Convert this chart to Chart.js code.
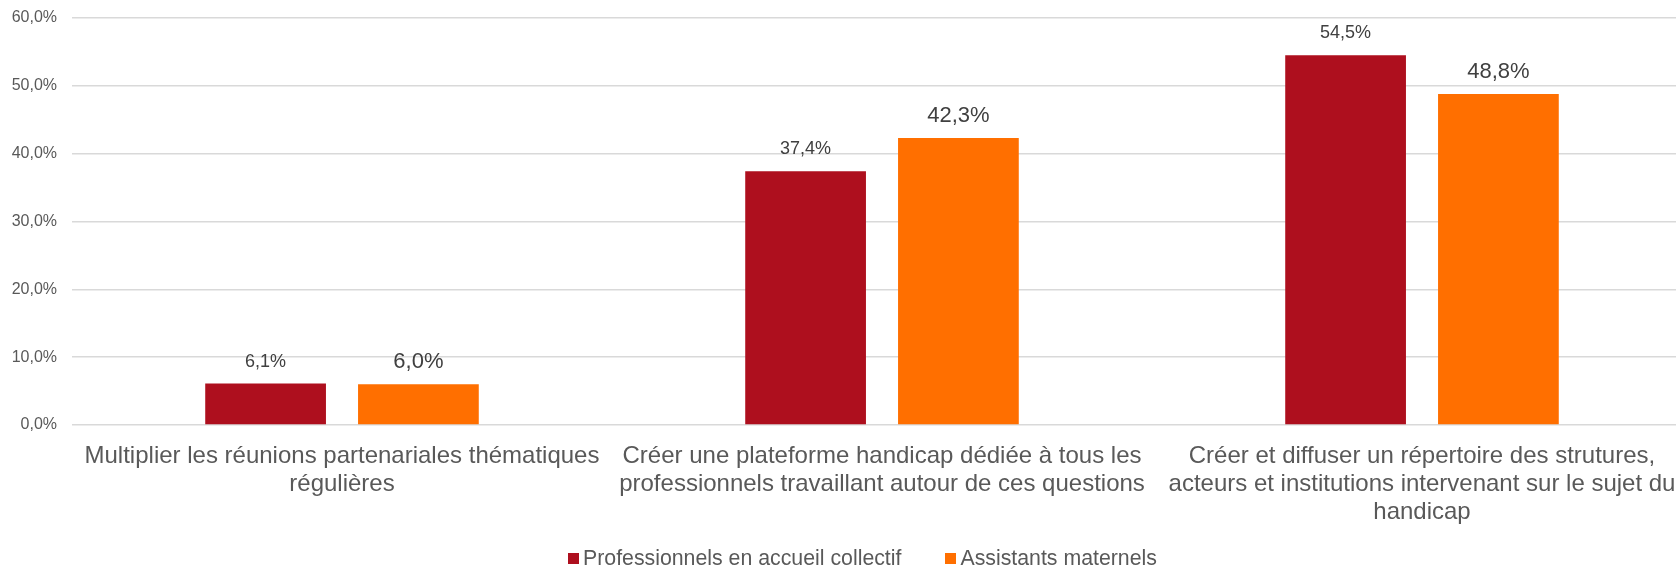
<!DOCTYPE html>
<html>
<head>
<meta charset="utf-8">
<script src="https://cdn.jsdelivr.net/npm/chart.js@4"></script>
<style>
  html, body { margin: 0; padding: 0; background: #fff; overflow: hidden; }
  #wrap { position: relative; width: 1676px; height: 566px; overflow: hidden; }
  #cw { position: absolute; left: 0; top: 0; width: 1692px; height: 566px; }
  #legend { position: absolute; left: 568px; top: 547px; height: 22px; display: flex; align-items: center;
            font-family: "Liberation Sans", Arial, sans-serif; font-size: 21.3px; color: #595959; white-space: nowrap; }
  .item { display: flex; align-items: center; }
  .sw { width: 11px; height: 11px; margin-right: 4px; }
</style>
</head>
<body>
<div id="wrap">
  <div id="cw"><canvas id="c"></canvas></div>
  <div id="legend"></div>
</div>
<script>
const categories = [
  ["Multiplier les réunions partenariales thématiques", "régulières"],
  ["Créer une plateforme handicap dédiée à tous les", "professionnels travaillant autour de ces questions"],
  ["Créer et diffuser un répertoire des strutures,", "acteurs et institutions intervenant sur le sujet du", "handicap"]
];
const seriesNames = ["Professionnels en accueil collectif", "Assistants maternels"];
const collectifValues = [6.1, 37.4, 54.5];
const assistantsValues = [6.0, 42.3, 48.8];
const seriesColors = ["#AE0F1E", "#FF6F00"];
const labelFontSizes = [18, 22];
const yTicks = [0, 10, 20, 30, 40, 50, 60];

const fmt = v => v.toFixed(1).replace('.', ',') + '%';
const FONT = '"Liberation Sans", Arial, sans-serif';

const dataLabels = {
  id: 'dataLabels',
  afterDatasetsDraw(chart) {
    const ctx = chart.ctx;
    ctx.save();
    ctx.fillStyle = '#404040';
    ctx.textAlign = 'center';
    ctx.textBaseline = 'middle';
    chart.data.datasets.forEach((ds, i) => {
      const meta = chart.getDatasetMeta(i);
      ctx.font = labelFontSizes[i] + 'px ' + FONT;
      meta.data.forEach((el, j) => {
        ctx.fillText(fmt(ds.data[j]), el.x, el.y - 22);
      });
    });
    ctx.restore();
  }
};

new Chart(document.getElementById('c'), {
  type: 'bar',
  data: {
    labels: categories,
    datasets: [
      { label: seriesNames[0], data: collectifValues, backgroundColor: seriesColors[0],
        categoryPercentage: 0.566, barPercentage: 0.79 },
      { label: seriesNames[1], data: assistantsValues, backgroundColor: seriesColors[1],
        categoryPercentage: 0.566, barPercentage: 0.79 }
    ]
  },
  options: {
    responsive: true,
    maintainAspectRatio: false,
    animation: false,
    layout: { padding: { top: 18, bottom: 41, left: 0, right: 0 } },
    plugins: { legend: { display: false }, tooltip: { enabled: false } },
    scales: {
      x: {
        grid: { display: false, drawTicks: false },
        border: { display: false },
        ticks: { color: '#595959', font: { family: FONT, size: 24, lineHeight: 1.17 }, padding: 17, maxRotation: 0, autoSkip: false },
        afterFit(s) { s.height = 100; s.paddingLeft = 0; s.paddingRight = 0; }
      },
      y: {
        min: 0, max: 60,
        afterBuildTicks(s) { s.ticks = yTicks.map(v => ({ value: v })); },
        grid: { color: '#d9d9d9', lineWidth: 1.5, drawTicks: false, tickLength: 0 },
        border: { display: false },
        ticks: { color: '#595959', font: { family: FONT, size: 16 }, padding: 15, callback: v => fmt(v) },
        afterFit(s) { s.width = 72; s.paddingTop = 0; s.paddingBottom = 0; }
      }
    }
  },
  plugins: [dataLabels]
});

const lg = document.getElementById('legend');
seriesNames.forEach((n, i) => {
  const it = document.createElement('div');
  it.className = 'item';
  if (i > 0) it.style.marginLeft = '44px';
  const sw = document.createElement('div');
  sw.className = 'sw';
  sw.style.background = seriesColors[i];
  const tx = document.createElement('span');
  tx.textContent = n;
  it.appendChild(sw); it.appendChild(tx);
  lg.appendChild(it);
});
</script>
</body>
</html>
